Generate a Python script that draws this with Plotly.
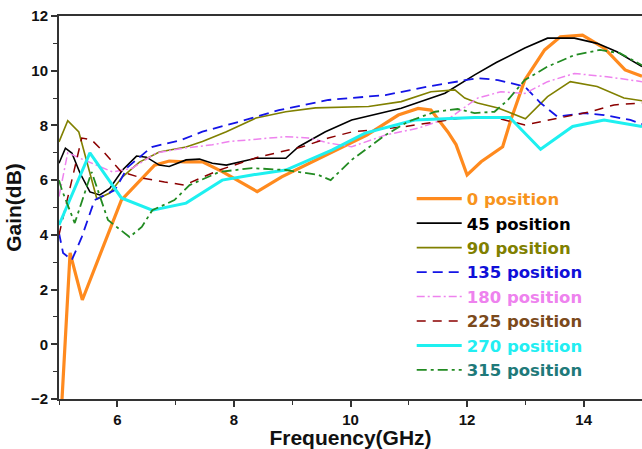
import plotly.graph_objects as go

# ---- data ----
freq_0 = [5.0, 5.19, 5.40, 6.07, 6.64, 6.89, 7.15, 7.46, 7.8, 8.40, 8.82, 9.68, 10.28, 10.82, 11.16, 11.38, 11.67, 11.81, 12.0, 12.24, 12.61, 12.75, 12.99, 13.33, 13.6, 13.98, 14.35, 14.71, 15.0]
gain_0 = [-4.0, 3.34, 1.62, 5.27, 6.55, 6.7, 6.67, 6.67, 6.31, 5.58, 6.12, 7.03, 7.65, 8.38, 8.62, 8.56, 7.76, 7.3, 6.19, 6.67, 7.22, 8.2, 9.66, 10.76, 11.24, 11.3, 10.83, 10.03, 9.8]

freq_45 = [5.0, 5.11, 5.22, 5.36, 5.53, 5.70, 5.87, 6.09, 6.33, 6.5, 6.72, 6.89, 7.18, 7.41, 7.63, 7.87, 8.38, 8.89, 9.11, 9.57, 10.02, 10.87, 11.62, 12.13, 12.5, 12.99, 13.38, 13.84, 14.23, 14.57, 15.0]
gain_45 = [6.62, 7.17, 6.99, 6.26, 5.57, 5.46, 5.7, 6.37, 6.88, 6.84, 6.55, 6.5, 6.74, 6.77, 6.62, 6.55, 6.8, 6.8, 7.22, 7.77, 8.2, 8.63, 9.18, 9.85, 10.3, 10.83, 11.19, 11.19, 11.0, 10.69, 10.15]

freq_90 = [5.0, 5.15, 5.34, 5.65, 5.87, 6.09, 6.38, 6.72, 7.18, 7.46, 7.87, 8.38, 8.89, 9.4, 10.31, 10.87, 11.38, 11.79, 11.96, 12.18, 12.53, 13.0, 13.38, 13.77, 14.23, 14.69, 15.0]
gain_90 = [7.4, 8.17, 7.76, 5.31, 5.53, 6.12, 6.66, 7.03, 7.21, 7.41, 7.77, 8.27, 8.5, 8.64, 8.69, 8.87, 9.23, 9.3, 9.0, 8.82, 8.64, 8.24, 9.05, 9.6, 9.42, 9.0, 8.9]

freq_135 = [5.0, 5.07, 5.22, 5.39, 5.61, 5.96, 6.18, 6.59, 7.1, 7.46, 8.2, 8.77, 9.62, 10.6, 11.33, 11.84, 12.18, 12.53, 12.99, 13.26, 13.55, 14.01, 14.35, 14.8, 15.0]
gain_135 = [4.07, 3.34, 3.08, 3.92, 5.27, 5.64, 6.48, 7.21, 7.47, 7.77, 8.2, 8.56, 8.93, 9.11, 9.42, 9.6, 9.73, 9.66, 9.42, 8.82, 8.32, 8.45, 8.38, 8.2, 8.05]

freq_180 = [5.0, 5.15, 5.36, 5.7, 5.92, 6.26, 6.67, 7.18, 7.63, 7.92, 8.89, 9.28, 9.62, 10.02, 10.6, 11.16, 11.72, 12.18, 12.58, 12.99, 13.38, 13.84, 14.4, 15.0]
gain_180 = [5.4, 7.0, 6.8, 6.5, 6.3, 6.44, 7.0, 7.18, 7.29, 7.41, 7.59, 7.54, 7.36, 7.22, 7.65, 7.9, 8.3, 9.0, 9.23, 9.17, 9.6, 9.9, 9.78, 9.6]

freq_225 = [5.0, 5.39, 5.56, 5.78, 6.07, 6.42, 6.81, 7.15, 7.75, 8.43, 9.16, 9.62, 10.02, 10.87, 11.84, 12.41, 12.99, 13.55, 14.11, 14.52, 15.0]
gain_225 = [4.0, 7.54, 7.47, 7.0, 6.3, 6.08, 5.93, 5.82, 6.37, 6.85, 7.21, 7.54, 7.76, 7.94, 8.25, 8.32, 8.02, 8.27, 8.5, 8.75, 8.82]

freq_270 = [5.0, 5.53, 6.07, 6.6, 7.18, 7.8, 8.31, 8.89, 9.68, 10.25, 11.1, 12.13, 12.73, 13.26, 13.81, 14.35, 15.0]
gain_270 = [4.36, 7.0, 5.35, 4.9, 5.16, 6.0, 6.19, 6.37, 7.1, 7.72, 8.2, 8.29, 8.29, 7.13, 7.96, 8.2, 7.96]

freq_315 = [5.0, 5.05, 5.27, 5.56, 5.84, 6.13, 6.21, 6.42, 6.6, 6.98, 7.24, 7.75, 8.31, 8.89, 9.45, 9.66, 10.02, 10.6, 10.99, 11.45, 11.84, 12.13, 12.47, 12.7, 12.99, 13.38, 13.84, 14.28, 14.62, 15.0]
gain_315 = [6.0, 5.64, 4.43, 6.3, 4.54, 4.07, 3.92, 4.29, 4.9, 5.27, 5.82, 6.3, 6.44, 6.37, 6.19, 6.0, 6.74, 7.65, 8.14, 8.5, 8.6, 8.45, 8.5, 8.93, 9.66, 10.15, 10.57, 10.76, 10.64, 10.2]

labels = ["0 position", "45 position", "90 position", "135 position",
          "180 position", "225 position", "270 position", "315 position"]

x_ticks = [6, 8, 10, 12, 14]
y_ticks = [-2, 0, 2, 4, 6, 8, 10, 12]

series = [
    (freq_0, gain_0, "#FF8A1E", 3.2, "solid", "#F7941D"),
    (freq_45, gain_45, "#000000", 1.6, "solid", "#000000"),
    (freq_90, gain_90, "#808000", 1.6, "solid", "#808000"),
    (freq_135, gain_135, "#1414E6", 1.8, "10px,6px", "#1010D8"),
    (freq_180, gain_180, "#EE82EE", 1.5, "8px,3px,2px,3px", "#EE82EE"),
    (freq_225, gain_225, "#8B0000", 1.5, "9px,7px", "#7B4A1C"),
    (freq_270, gain_270, "#1EF0F0", 3.0, "solid", "#22EEF2"),
    (freq_315, gain_315, "#228B22", 1.8, "10px,4px,3px,4px", "#1F7A7A"),
]

fig = go.Figure()
for (fx, gy, col, w, dash, tcol), name in zip(series, labels):
    fig.add_trace(go.Scatter(
        x=fx, y=gy, mode="lines",
        name=f'<span style="color:{tcol}">{name}</span>',
        line=dict(color=col, width=w, dash=dash),
    ))

font_fam = "Liberation Sans, Arial, sans-serif"
fig.update_layout(
    width=642, height=449,
    margin=dict(l=59, r=0, t=16, b=50),
    paper_bgcolor="white", plot_bgcolor="white",
    font=dict(family=font_fam, color="#111111"),
    showlegend=True,
    legend=dict(
        x=0.605, y=0.568, xanchor="left", yanchor="top",
        bgcolor="rgba(0,0,0,0)",
        font=dict(family="DejaVu Sans, Liberation Sans, sans-serif", size=16.5, weight="bold"),
        itemwidth=45,
        tracegroupgap=0,
    ),
    xaxis=dict(
        range=[5, 15], tickvals=x_ticks, showgrid=False, zeroline=False,
        showline=True, linecolor="#333333", linewidth=2, mirror=True,
        ticks="outside", ticklen=6, tickwidth=1.5, tickcolor="#333333",
        minor=dict(dtick=1, tick0=5, ticks="outside", ticklen=4, tickwidth=1.2, tickcolor="#333333"),
        tickfont=dict(family=font_fam, size=15, weight="bold", color="#111111"),
        title=dict(text="Frequency(GHz)", standoff=1,
                   font=dict(family=font_fam, size=21, weight="bold", color="#111111")),
    ),
    yaxis=dict(
        range=[-2, 12], tickvals=y_ticks, showgrid=False, zeroline=False,
        showline=True, linecolor="#333333", linewidth=2, mirror=False,
        ticks="outside", ticklen=6, tickwidth=1.5, tickcolor="#333333",
        minor=dict(dtick=1, tick0=-1, ticks="outside", ticklen=4, tickwidth=1.2, tickcolor="#333333"),
        tickfont=dict(family=font_fam, size=15, weight="bold", color="#111111"),
        title=dict(text="Gain(dB)", standoff=4,
                   font=dict(family=font_fam, size=21, weight="bold", color="#111111")),
    ),
)

fig.write_html("out.html")
